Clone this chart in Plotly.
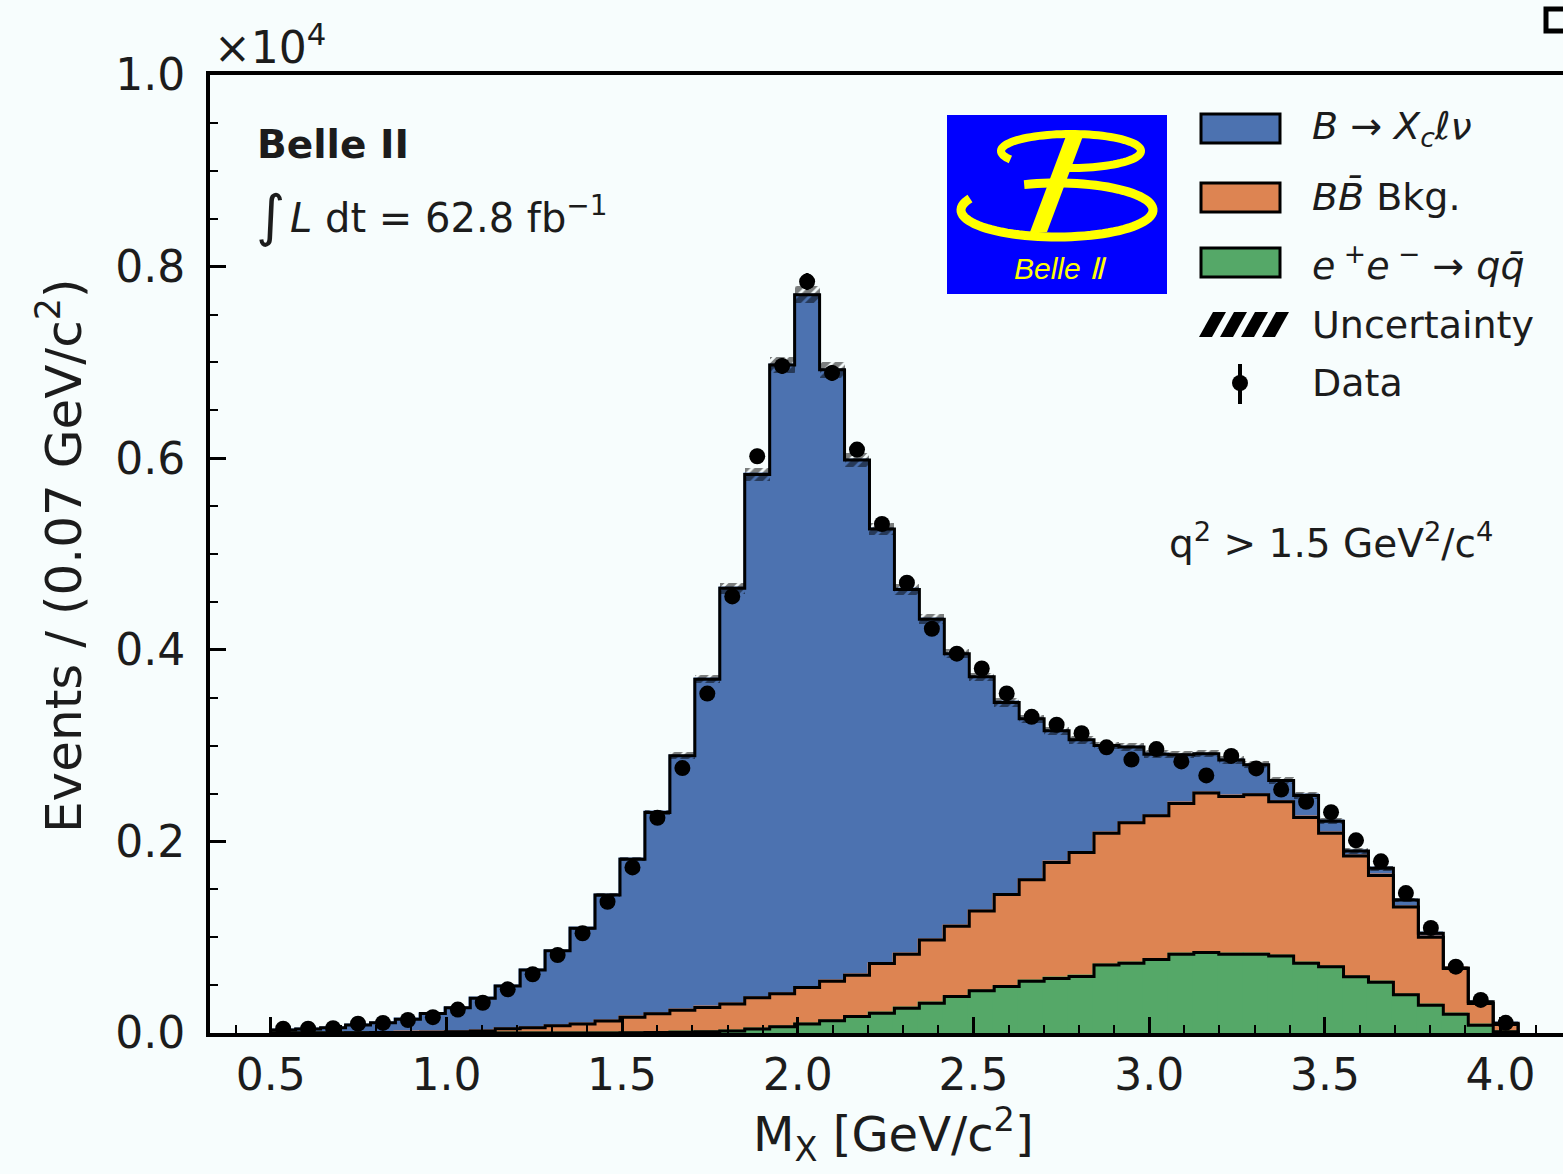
import numpy as np
import plotly.graph_objects as go

# ---------------- data ----------------
BIN_LOW = 0.5
BIN_WIDTH = 0.071
N_BINS = 50

# B -> Xc l nu (blue)
xc_lnu = [31, 42, 55, 82, 104, 137, 194, 250, 340, 446,
          603, 784, 998, 1315, 1649, 2102, 2657, 3426, 4341, 5464,
          6564, 7230, 6382, 5378, 4535, 3809, 3347, 2846, 2444, 2005,
          1680, 1375, 1177, 915, 790, 642, 509, 409, 381, 312,
          221, 230, 125, 53, 75, 74, 40, 5, 19, 13]
# BBbar background (orange)
bb_bkg = [0, 0, 0, 2, 4, 6, 9, 14, 22, 45,
          55, 75, 95, 125, 162, 195, 229, 255, 282, 324,
          345, 380, 411, 432, 518, 562, 661, 734, 834, 960,
          1060, 1210, 1293, 1374, 1466, 1502, 1575, 1667, 1648, 1667,
          1611, 1521, 1393, 1259, 1115, 915, 710, 479, 228, 76]
# e+e- -> qqbar continuum (green)
qq_cont = [0, 0, 0, 0, 0, 0, 0, 0, 0, 0,
           0, 0, 0, 0, 3, 5, 8, 12, 20, 43,
           65, 95, 129, 172, 207, 259, 311, 380, 440, 485,
           540, 570, 590, 711, 729, 766, 821, 839, 821, 821,
           803, 729, 692, 588, 530, 400, 290, 195, 80, 12]
# data
data_counts = [45, 45, 50, 97, 105, 136, 165, 244, 316, 456,
               613, 814, 1041, 1370, 1728, 2246, 2765, 3543, 4557, 6020,
               6963, 7844, 6890, 6090, 5313, 4700, 4220, 3960, 3805, 3545,
               3300, 3218, 3129, 2982, 2854, 2964, 2835, 2689, 2892, 2762,
               2542, 2414, 2304, 2011, 1792, 1461, 1096, 692, 345, 106]
data_err = [7, 7, 7, 10, 10, 12, 13, 16, 18, 21,
            25, 29, 32, 37, 42, 47, 53, 60, 68, 78,
            83, 89, 83, 78, 73, 69, 65, 63, 62, 60,
            57, 57, 56, 55, 53, 54, 53, 52, 54, 53,
            50, 49, 48, 45, 42, 38, 33, 26, 19, 10]
# MC uncertainty (half-height of hatched band)
mc_unc = [5, 5, 5, 5, 5, 5, 5, 5, 6, 8,
          9, 11, 14, 18, 23, 29, 35, 44, 56, 70,
          83, 90, 83, 72, 63, 57, 53, 48, 45, 42,
          41, 40, 39, 39, 39, 39, 39, 39, 38, 38,
          36, 35, 32, 27, 24, 20, 15, 11, 6, 3]

x_tick_vals = [0.5, 1.0, 1.5, 2.0, 2.5, 3.0, 3.5, 4.0]
x_tick_text = ["0.5", "1.0", "1.5", "2.0", "2.5", "3.0", "3.5", "4.0"]
y_tick_vals = [0, 2000, 4000, 6000, 8000, 10000]
y_tick_text = ["0.0", "0.2", "0.4", "0.6", "0.8", "1.0"]

C_BLUE = "#4C72B0"
C_ORANGE = "#DD8452"
C_GREEN = "#55A868"
BG = "#F7FDFD"
TXT = "#1c1c1c"
FONT = "DejaVu Sans"

# ---------------- derived ----------------
edges = BIN_LOW + BIN_WIDTH * np.arange(N_BINS + 1)
centers = edges[:-1] + BIN_WIDTH / 2
g = np.array(qq_cont, dtype=float)
o = g + np.array(bb_bkg, dtype=float)
t = o + np.array(xc_lnu, dtype=float)
unc = np.array(mc_unc, dtype=float)

step_x = [edges[0]] + list(edges[:-1]) + [edges[-1]]


def step_y(v):
    return [0] + list(v) + [0]


fig = go.Figure()

# filled stacked components
for vals, base, col in ((xc_lnu, o, C_BLUE), (bb_bkg, g, C_ORANGE), (qq_cont, 0, C_GREEN)):
    fig.add_trace(go.Bar(x=centers, y=vals, base=base, width=BIN_WIDTH,
                         marker=dict(color=col, line=dict(width=1.5, color=col)),
                         showlegend=False, hoverinfo="skip"))
# hatched uncertainty band
fig.add_trace(go.Bar(x=centers, y=2 * unc, base=t - unc, width=BIN_WIDTH,
                     marker=dict(color="rgba(0,0,0,0)", line=dict(width=0),
                                 pattern=dict(shape="/", fgcolor="black",
                                              bgcolor="rgba(0,0,0,0)",
                                              size=9, solidity=0.7)),
                     showlegend=False, hoverinfo="skip"))

# black step outlines
for v in (g, o, t):
    fig.add_trace(go.Scatter(x=step_x, y=step_y(v), mode="lines",
                             line=dict(color="black", width=3, shape="hv"),
                             showlegend=False, hoverinfo="skip"))

# data
fig.add_trace(go.Scatter(x=centers, y=data_counts, mode="markers",
                         marker=dict(color="black", size=16),
                         error_y=dict(type="data", array=data_err, color="black",
                                      thickness=3, width=0),
                         showlegend=False))

# ---------------- layout ----------------
L, T, PW, PH = 210, 75, 1353, 958


def P(px, py):
    return (px - L) / PW, (T + PH - py) / PH


def path(pts, close=False):
    s = ""
    for i, (px, py) in enumerate(pts):
        x, y = P(px, py)
        s += ("M" if i == 0 else "L") + f"{x:.5f},{y:.5f} "
    if close:
        s += "Z"
    return s


def arc(cx, cy, rx, ry, a0, a1, n=80):
    ang = np.radians(np.linspace(a0, a1, n))
    return [(cx + rx * np.cos(a), cy + ry * np.sin(a)) for a in ang]


shapes = []
annots = []


def rect(x0, y0, x1, y1, fill, lw=0, lc="black"):
    a, b = P(x0, y1)
    c, d = P(x1, y0)
    shapes.append(dict(type="rect", xref="paper", yref="paper", x0=a, y0=b, x1=c, y1=d,
                       fillcolor=fill, line=dict(width=lw, color=lc)))


def text(px, py, s, size, xanchor="left", color=TXT, family=FONT, angle=0):
    x, y = P(px, py)
    annots.append(dict(x=x, y=y, xref="paper", yref="paper", text=s, showarrow=False,
                       xanchor=xanchor, yanchor="middle", textangle=angle,
                       font=dict(size=size, color=color, family=family)))


# Belle II logo
rect(947, 115, 1167, 294, "#0000FF")
YEL = "#FFFF00"
shapes.append(dict(type="path", xref="paper", yref="paper",
                   path=path(arc(1057, 210, 96, 27, 205, -110)),
                   line=dict(color=YEL, width=9), fillcolor="rgba(0,0,0,0)"))
shapes.append(dict(type="path", xref="paper", yref="paper",
                   path=path(arc(1071, 151, 70, 17, 150, 455)),
                   line=dict(color=YEL, width=8), fillcolor="rgba(0,0,0,0)"))
shapes.append(dict(type="path", xref="paper", yref="paper",
                   path=path([(1066, 136), (1083, 136), (1047, 232), (1030, 232)], close=True),
                   line=dict(width=0), fillcolor=YEL))
text(1060, 268, "<i>Belle Ⅱ</i>", 30, xanchor="center", color=YEL, family="Liberation Sans")

# legend
rect(1201, 114, 1280, 143, C_BLUE, 3)
rect(1201, 183, 1280, 212, C_ORANGE, 3)
rect(1201, 248, 1280, 277, C_GREEN, 3)
for i in range(4):
    x0 = 1199 + 21 * i
    shapes.append(dict(type="path", xref="paper", yref="paper",
                       path=path([(x0, 337), (x0 + 13, 337), (x0 + 27, 312), (x0 + 14, 312)], close=True),
                       line=dict(width=0), fillcolor="black"))
a, b = P(1240, 404)
c, d = P(1240, 364)
shapes.append(dict(type="line", xref="paper", yref="paper", x0=a, y0=b, x1=c, y1=d,
                   line=dict(color="black", width=4)))
a, b = P(1232, 391)
c, d = P(1248, 375)
shapes.append(dict(type="circle", xref="paper", yref="paper", x0=a, y0=b, x1=c, y1=d,
                   fillcolor="black", line=dict(width=0)))

LEG = 38
text(1310, 128, "<i>B</i> → <i>X<sub>c</sub>ℓν</i>", LEG)
text(1310, 197, "<i>BB\u0304</i> Bkg.", LEG)
text(1310, 263, "<i>e</i><sup> +</sup><i>e</i><sup> −</sup> → <i>qq\u0304</i>", LEG)
text(1310, 325, "Uncertainty", LEG)
text(1310, 383, "Data", LEG)

# other texts
text(255, 145, "<b>Belle II</b>", 39)
text(254, 215, "∫", 56)
text(288, 215, "<i>L</i> dt = 62.8 fb<sup>−1</sup>", 40)
text(1331, 541, "q<sup>2</sup> > 1.5 GeV<sup>2</sup>/c<sup>4</sup>", 39, xanchor="center")
text(212, 44, "×10<sup>4</sup>", 44)
text(893, 1134, "M<sub>X</sub> [GeV/c<sup>2</sup>]", 48, xanchor="center")
text(60, 556, "Events / (0.07 GeV/c<sup>2</sup>)", 50, xanchor="center", angle=-90)

# corner fragment at top right
a, b = P(1546, 31)
c, d = P(1600, 9)
shapes.append(dict(type="rect", xref="paper", yref="paper", x0=a, y0=b, x1=c, y1=d,
                   fillcolor="rgba(0,0,0,0)", line=dict(color="black", width=5)))

xr0 = 0.5 - (270.7 - L) / 351.4
xr1 = xr0 + PW / 351.4

fig.update_layout(
    width=1563, height=1174, autosize=False,
    margin=dict(l=L, r=1563 - L - PW, t=T, b=1174 - T - PH, pad=0),
    paper_bgcolor=BG, plot_bgcolor=BG,
    barmode="overlay", bargap=0, showlegend=False,
    shapes=shapes, annotations=annots,
    font=dict(family=FONT, color=TXT),
    xaxis=dict(range=[xr0, xr1], showline=True, linewidth=4, linecolor="black",
               mirror=True, showgrid=False, zeroline=False,
               ticks="inside", ticklen=16, tickwidth=3, tickcolor="black",
               tickmode="array", tickvals=x_tick_vals, ticktext=x_tick_text,
               tickfont=dict(size=44, family=FONT, color=TXT), ticklabelstandoff=0,
               minor=dict(ticks="inside", ticklen=8, tickwidth=2, tickcolor="black",
                          tickmode="linear", tick0=0, dtick=0.1, showgrid=False)),
    yaxis=dict(range=[0, 10000], showline=True, linewidth=4, linecolor="black",
               showgrid=False, zeroline=False,
               ticks="inside", ticklen=16, tickwidth=3, tickcolor="black",
               tickmode="array", tickvals=y_tick_vals, ticktext=y_tick_text,
               tickfont=dict(size=44, family=FONT, color=TXT), ticklabelstandoff=12,
               minor=dict(ticks="inside", ticklen=8, tickwidth=2, tickcolor="black",
                          tickmode="linear", tick0=0, dtick=500, showgrid=False)),
)

fig.write_html("out.html")
